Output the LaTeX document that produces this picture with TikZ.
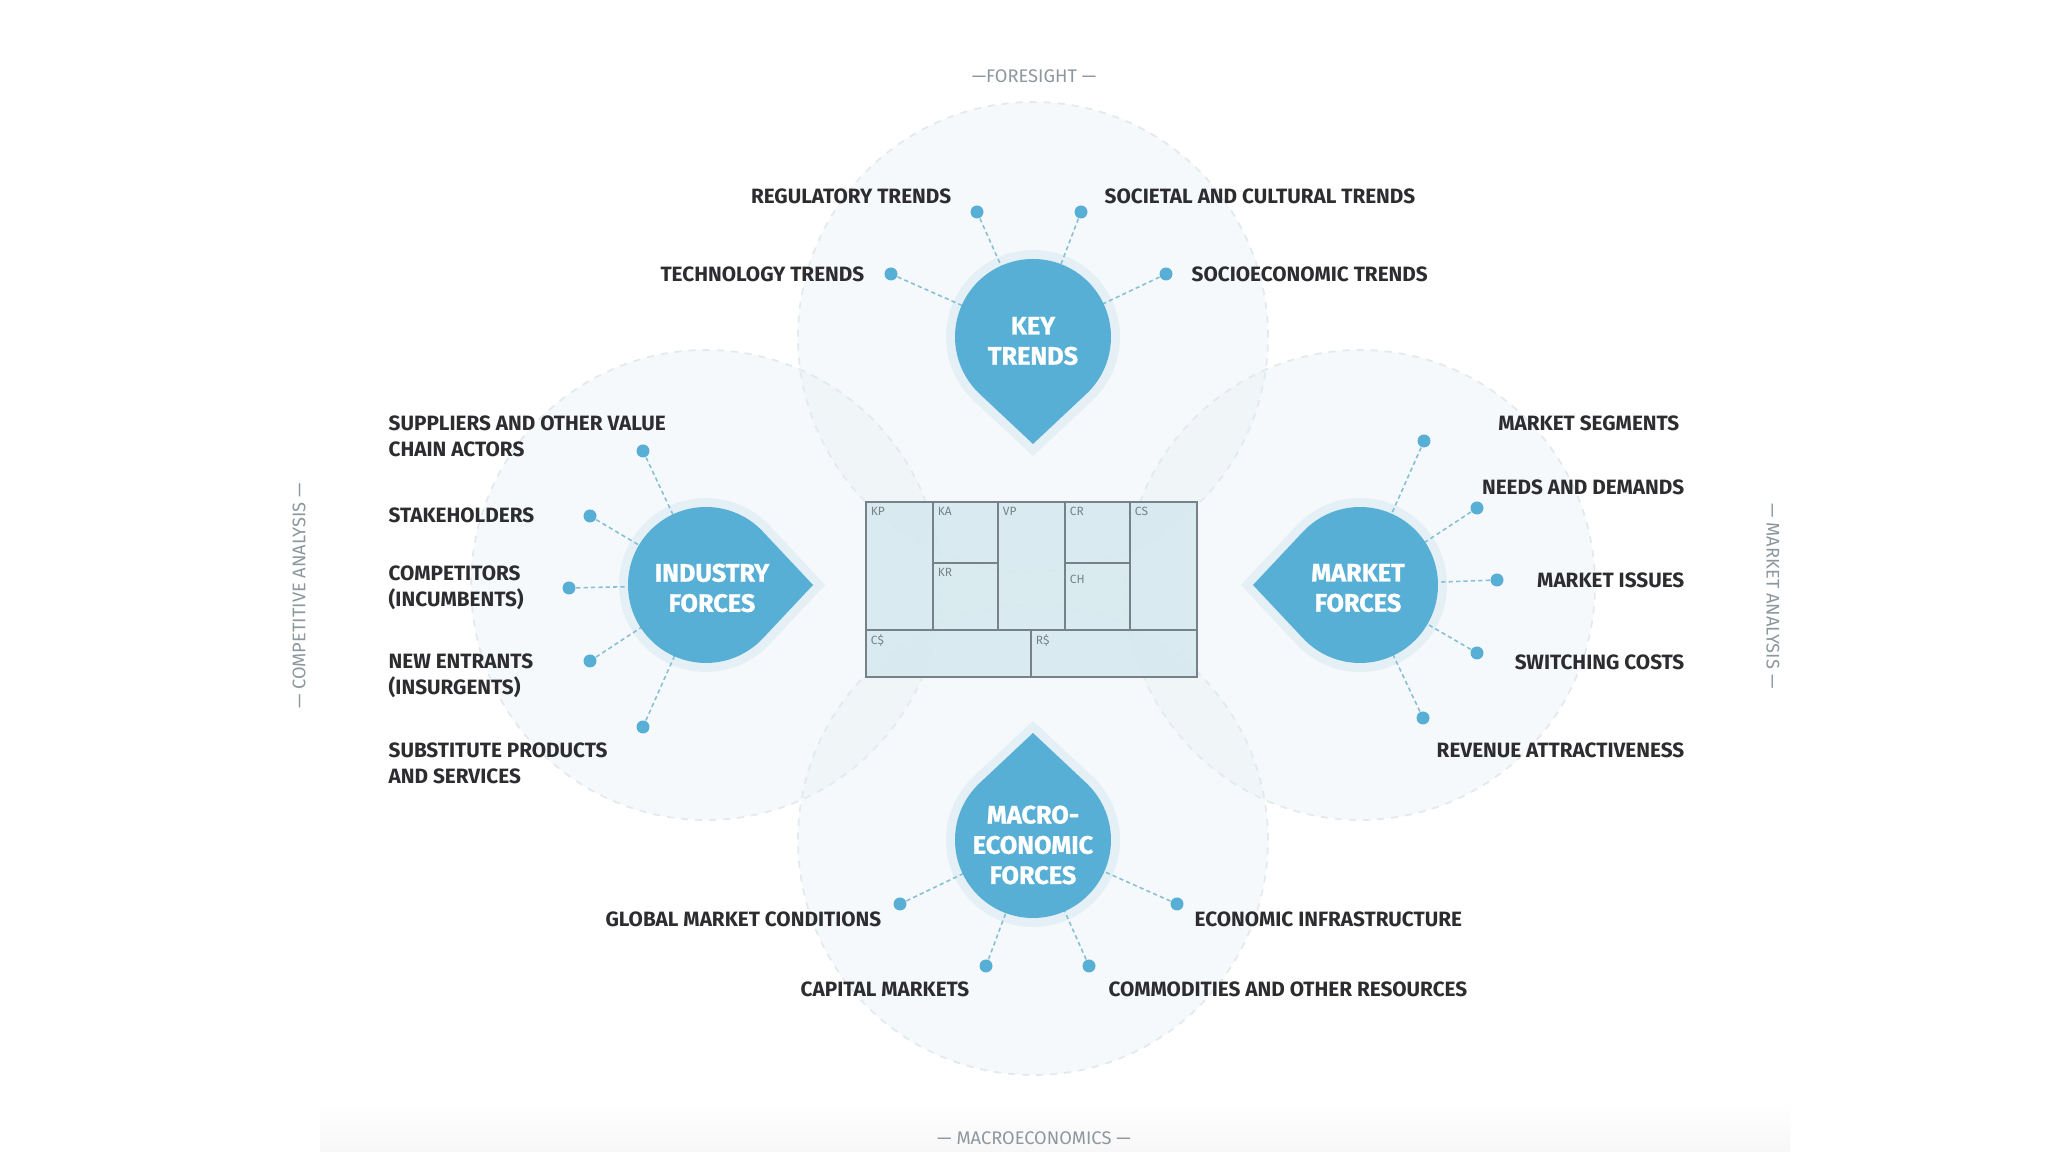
\documentclass[tikz,border=0pt]{standalone}
\usepackage{fontspec}
\setmainfont{Fira Sans}
\newfontfamily\heavyfont{Fira Sans}[BoldFeatures={FakeBold=0.9}]
\usetikzlibrary{calc, positioning}

\definecolor{dropblue}{RGB}{88,175,213}
\definecolor{halo}{RGB}{228,240,245}
\definecolor{zone}{RGB}{228,238,243}
\definecolor{zoneline}{RGB}{226,234,238}
\definecolor{linkblue}{RGB}{135,192,214}
\definecolor{labeltext}{RGB}{45,45,48}
\definecolor{sidegray}{RGB}{140,152,158}
\definecolor{canvasfill}{RGB}{214,233,239}
\definecolor{canvasline}{RGB}{118,130,135}

\tikzset{
  zonecircle/.style={fill=zone, fill opacity=0.32, draw=zoneline, dash pattern=on 2pt off 2pt, line width=0.5pt},
  dot/.style={circle, fill=dropblue, inner sep=0pt, minimum size=1.3mm},
  link/.style={draw=linkblue, line width=0.45pt, dash pattern=on 1.2pt off 0.9pt},
  lbl/.style={font=\fontsize{5.9}{7.4}\selectfont\bfseries, text=labeltext, inner sep=0pt},
  droptext/.style={font=\fontsize{7.2}{8.6}\selectfont\heavyfont\bfseries, text=white, align=center, inner sep=0pt},
  sidelbl/.style={font=\fontsize{5.2}{6}\selectfont, text=sidegray, inner sep=0pt},
  cell/.style={font=\fontsize{3.4}{4}\selectfont, text=canvasline, anchor=north west, inner sep=1.2pt}
}

% drop shape: centre, direction of the tip, radius, tip distance, colour
\newcommand{\dropshape}[5]{%
  \fill[#5] ($(#1)+(#2+43:#3)$) arc[start angle=#2+43, end angle=#2+317, radius=#3]
    -- ($(#1)+(#2:#4)$) -- cycle;}

\begin{document}
\begin{tikzpicture}
\useasboundingbox (0,0) rectangle (20.48,11.52);
\fill[white] (0,0) rectangle (20.48,11.52);

% floor shadow
\shade[top color=white, bottom color=gray!6] (3.2,0) rectangle (17.9,0.5);

% centres of the four fields
\coordinate (kt) at (10.33,8.15);
\coordinate (ind) at (7.06,5.67);
\coordinate (mkt) at (13.60,5.67);
\coordinate (mac) at (10.33,3.12);

% background zones
\foreach \c in {kt, ind, mkt, mac}
    \draw[zonecircle] (\c) circle (2.35);

% business model canvas
\fill[canvasfill, fill opacity=0.9] (8.66,4.75) rectangle (11.97,6.50);
\draw[canvasline, line width=0.5pt] (8.66,4.75) rectangle (11.97,6.50);
\draw[canvasline, line width=0.5pt] (8.66,5.22) -- (11.97,5.22);
\foreach \x in {9.33, 9.98, 10.65, 11.30}
    \draw[canvasline, line width=0.5pt] (\x,5.22) -- (\x,6.50);
\draw[canvasline, line width=0.5pt] (9.33,5.89) -- (9.98,5.89);
\draw[canvasline, line width=0.5pt] (10.65,5.89) -- (11.30,5.89);
\draw[canvasline, line width=0.5pt] (10.31,4.75) -- (10.31,5.22);
\node[cell] (kp) at (8.66,6.50) {KP};
\node[cell] (ka) at (9.33,6.50) {KA};
\node[cell] (vp) at (9.98,6.50) {VP};
\node[cell] (cr) at (10.65,6.50) {CR};
\node[cell] (cs) at (11.30,6.50) {CS};
\node[cell] (kr) at (9.33,5.89) {KR};
\node[cell] (ch) at (10.65,5.82) {CH};
\node[cell] (cost) at (8.66,5.22) {C\$};
\node[cell] (rev) at (10.31,5.22) {R\$};

% halos
\dropshape{kt}{-90}{0.87}{1.19}{halo}
\dropshape{ind}{0}{0.87}{1.19}{halo}
\dropshape{mkt}{180}{0.87}{1.19}{halo}
\dropshape{mac}{90}{0.87}{1.19}{halo}

% key trends
\node[dot] (kt1) at (9.77,9.40) {};
\node[dot] (kt2) at (10.81,9.40) {};
\node[dot] (kt3) at (8.91,8.78) {};
\node[dot] (kt4) at (11.66,8.78) {};
\foreach \n in {kt1, kt2, kt3, kt4}
    \draw[link] (\n) -- (kt);

% industry forces
\node[dot] (ind1) at (6.43,7.01) {};
\node[dot] (ind2) at (5.90,6.36) {};
\node[dot] (ind3) at (5.69,5.64) {};
\node[dot] (ind4) at (5.90,4.91) {};
\node[dot] (ind5) at (6.43,4.25) {};
\foreach \n in {ind1, ind2, ind3, ind4, ind5}
    \draw[link] (\n) -- (ind);

% market forces
\node[dot] (mkt1) at (14.24,7.11) {};
\node[dot] (mkt2) at (14.77,6.44) {};
\node[dot] (mkt3) at (14.97,5.72) {};
\node[dot] (mkt4) at (14.77,4.99) {};
\node[dot] (mkt5) at (14.23,4.34) {};
\foreach \n in {mkt1, mkt2, mkt3, mkt4, mkt5}
    \draw[link] (\n) -- (mkt);

% macroeconomic forces
\node[dot] (mac1) at (9.00,2.48) {};
\node[dot] (mac2) at (11.77,2.48) {};
\node[dot] (mac3) at (9.86,1.86) {};
\node[dot] (mac4) at (10.89,1.86) {};
\foreach \n in {mac1, mac2, mac3, mac4}
    \draw[link] (\n) -- (mac);

% drops
\dropshape{kt}{-90}{0.78}{1.07}{dropblue}
\dropshape{ind}{0}{0.78}{1.07}{dropblue}
\dropshape{mkt}{180}{0.78}{1.07}{dropblue}
\dropshape{mac}{90}{0.78}{1.07}{dropblue}
\node[droptext] (kttext) at (10.33,8.11) {KEY\\TRENDS};
\node[droptext] (indtext) at (7.12,5.64) {INDUSTRY\\FORCES};
\node[droptext] (mkttext) at (13.58,5.64) {MARKET\\FORCES};
\node[droptext] (mactext) at (10.33,3.07) {MACRO-\\ECONOMIC\\FORCES};

% labels
\node[lbl, anchor=east] (regulatory) at (9.52,9.56) {REGULATORY TRENDS};
\node[lbl, anchor=west] (societal) at (11.04,9.56) {SOCIETAL AND CULTURAL TRENDS};
\node[lbl, anchor=east] (technology) at (8.65,8.78) {TECHNOLOGY TRENDS};
\node[lbl, anchor=west] (socioeco) at (11.91,8.78) {SOCIOECONOMIC TRENDS};

\node[lbl, anchor=west, align=left] (suppliers) at (3.88,7.16) {SUPPLIERS AND OTHER VALUE\\CHAIN ACTORS};
\node[lbl, anchor=west] (stakeholders) at (3.88,6.37) {STAKEHOLDERS};
\node[lbl, anchor=west, align=left] (competitors) at (3.88,5.64) {COMPETITORS\\(INCUMBENTS)};
\node[lbl, anchor=west, align=left] (entrants) at (3.88,4.76) {NEW ENTRANTS\\(INSURGENTS)};
\node[lbl, anchor=west, align=left] (substitutes) at (3.88,3.89) {SUBSTITUTE PRODUCTS\\AND SERVICES};

\node[lbl, anchor=east] (segments) at (16.80,7.29) {MARKET SEGMENTS};
\node[lbl, anchor=east] (needs) at (16.85,6.65) {NEEDS AND DEMANDS};
\node[lbl, anchor=east] (issues) at (16.85,5.72) {MARKET ISSUES};
\node[lbl, anchor=east] (switching) at (16.85,4.90) {SWITCHING COSTS};
\node[lbl, anchor=east] (revenue) at (16.85,4.02) {REVENUE ATTRACTIVENESS};

\node[lbl, anchor=east] (global) at (8.82,2.33) {GLOBAL MARKET CONDITIONS};
\node[lbl, anchor=west] (infra) at (11.94,2.33) {ECONOMIC INFRASTRUCTURE};
\node[lbl, anchor=east] (capital) at (9.70,1.63) {CAPITAL MARKETS};
\node[lbl, anchor=west] (commodities) at (11.08,1.63) {COMMODITIES AND OTHER RESOURCES};

% side titles
\node[sidelbl] (foresight) at (10.34,10.76) {\textemdash FORESIGHT \textemdash};
\node[sidelbl] (macroeco) at (10.34,0.14) {\textemdash\ MACROECONOMICS \textemdash};
\node[sidelbl, rotate=90] (competitive) at (2.99,5.56) {\textemdash\ COMPETITIVE ANALYSIS \textemdash};
\node[sidelbl, rotate=-90] (market) at (17.73,5.56) {\textemdash\ MARKET ANALYSIS \textemdash};
\end{tikzpicture}
\end{document}
